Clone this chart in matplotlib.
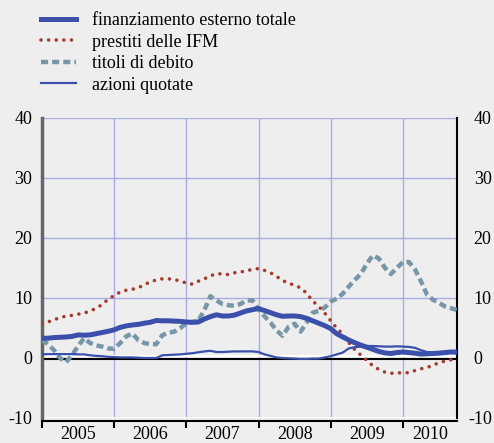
import matplotlib
matplotlib.use("Agg")
import matplotlib.pyplot as plt
import numpy as np

# monthly data, Jan 2005 - Oct 2010
years = [2005, 2006, 2007, 2008, 2009, 2010]
year_labels = ["2005", "2006", "2007", "2008", "2009", "2010"]

totale = [3.3, 3.3, 3.4, 3.45, 3.5, 3.6, 3.85, 3.8, 3.85, 4.05, 4.25, 4.45,
          4.7, 5.1, 5.35, 5.5, 5.6, 5.8, 5.95, 6.25, 6.2, 6.2, 6.15, 6.1,
          6.0, 5.95, 6.0, 6.5, 6.9, 7.2, 7.0, 7.0, 7.15, 7.5, 7.85, 8.05,
          8.25, 7.9, 7.55, 7.2, 6.95, 7.0, 7.0, 6.9, 6.6, 6.2, 5.8, 5.4,
          4.9, 4.05, 3.5, 3.0, 2.55, 2.15, 1.8, 1.45, 1.1, 0.85, 0.75, 0.9,
          1.0, 0.9, 0.8, 0.65, 0.7, 0.75, 0.8, 0.9, 1.0, 0.95]

prestiti = [5.8, 6.0, 6.4, 6.7, 7.0, 7.1, 7.3, 7.5, 7.8, 8.3, 8.9, 9.8,
            10.4, 11.0, 11.3, 11.45, 11.7, 12.2, 12.7, 13.0, 13.2, 13.2, 13.1, 12.8,
            12.5, 12.3, 12.8, 13.2, 13.7, 14.05, 14.0, 13.9, 14.2, 14.35, 14.5, 14.8,
            14.9, 14.6, 14.2, 13.6, 12.9, 12.5, 12.1, 11.7, 10.8, 9.5, 8.6, 7.5,
            6.2, 5.0, 4.0, 2.6, 1.4, 0.5, -0.4, -1.3, -1.9, -2.35, -2.55, -2.5,
            -2.45, -2.45, -2.1, -1.8, -1.6, -1.2, -0.8, -0.5, -0.3, -0.1]

titoli = [3.05, 2.3, 1.3, 0.0, -0.7, 0.5, 2.0, 3.3, 2.5, 2.1, 1.9, 1.6,
          1.5, 2.5, 3.6, 4.1, 3.0, 2.5, 2.3, 2.3, 3.8, 4.2, 4.4, 5.0,
          5.8, 6.0, 6.2, 8.0, 10.3, 9.6, 9.0, 8.8, 8.7, 9.0, 9.6, 9.6,
          8.1, 6.95, 5.9, 4.6, 3.7, 5.2, 5.7, 4.4, 5.9, 7.55, 7.85, 8.4,
          9.4, 9.9, 10.7, 11.9, 13.0, 14.0, 15.7, 17.1, 16.6, 15.05, 14.0, 15.0,
          16.0, 16.0, 14.8, 12.8, 10.6, 9.7, 9.2, 8.6, 8.3, 8.0]

azioni = [0.6, 0.65, 0.65, 0.65, 0.65, 0.65, 0.6, 0.6, 0.45, 0.35, 0.3, 0.2,
          0.15, 0.1, 0.1, 0.1, 0.05, 0.0, 0.0, 0.0, 0.45, 0.5, 0.55, 0.6,
          0.7, 0.8, 0.95, 1.1, 1.2, 1.0, 1.0, 1.05, 1.1, 1.1, 1.1, 1.1,
          1.0, 0.6, 0.35, 0.1, 0.0, -0.05, -0.1, -0.15, -0.15, -0.1, -0.1, 0.1,
          0.3, 0.6, 0.9, 1.6, 1.8, 1.9, 2.0, 2.0, 1.95, 1.9, 1.9, 1.95,
          1.9, 1.85, 1.7, 1.3, 1.0, 0.95, 1.0, 1.05, 1.15, 1.2]

t = 2005 + np.arange(len(totale)) / 12.0

bg = "#eeeeee"
blue = "#3a50aa"
red = "#a33b2f"
grey = "#7797a8"
grid_col = "#a9ade3"

plt.rcParams["font.family"] = ["Liberation Serif", "DejaVu Serif"]

fig = plt.figure(figsize=(4.94, 4.43), dpi=100, facecolor=bg)
ax = fig.add_axes([42 / 494, 1 - 418 / 443, 415 / 494, 300 / 443], facecolor=bg)

ax.set_xlim(2005, 2010.75)
ax.set_ylim(-10, 40)

# grid
for y in [10, 20, 30, 40]:
    ax.axhline(y, color=grid_col, lw=1.0, zorder=1)
for x in years[1:]:
    ax.axvline(x, color=grid_col, lw=1.0, zorder=1)

ax.axhline(0.3, color="white", lw=1.5, zorder=2)
ax.axhline(-0.2, color="black", lw=1.5, zorder=2)
ax.axhline(-10, color="white", lw=2.0, zorder=2)

ax.plot(t, totale, color=blue, lw=3.6, zorder=5, label="finanziamento esterno totale")
ax.plot(t, prestiti, color=red, lw=2.6, linestyle=(0, (0.01, 2.1)),
        dash_capstyle="round", zorder=4, label="prestiti delle IFM")
ax.plot(t, titoli, color=grey, lw=3.2, linestyle=(0, (1.6, 0.9)), zorder=3,
        label="titoli di debito")
ax.plot(t, azioni, color=blue, lw=1.6, zorder=4, label="azioni quotate")

ax.spines["top"].set_visible(False)
ax.spines["left"].set_color("#666666")
ax.spines["left"].set_linewidth(2.5)
ax.spines["right"].set_color("black")
ax.spines["right"].set_linewidth(1.5)
ax.spines["bottom"].set_color("black")
ax.spines["bottom"].set_linewidth(1.5)
ax.spines["bottom"].set_position(("outward", 2))

yt = [-10, 0, 10, 20, 30, 40]
ytl = ["-10", "0", "10", "20", "30", "40"]
ax.set_yticks(yt)
ax.set_yticklabels(ytl)
ax.tick_params(axis="y", length=0, labelsize=13, pad=7, right=False)

# right-hand labels (minus sign hangs to the left)
for v, lab in zip(yt, ytl):
    dx = 8 if lab.startswith("-") else 12
    ax.annotate(lab, xy=(1, v), xycoords=ax.get_yaxis_transform(),
                xytext=(dx, 0), textcoords="offset points",
                ha="left", va="center_baseline", fontsize=13,
                annotation_clip=False)

ax.set_xticks(years)
ax.set_xticklabels([])
ax.tick_params(axis="x", which="major", direction="out", length=5, width=1.5,
               color="black")
ax.set_xticks([y + 0.5 for y in years[:-1]] + [2010.375], minor=True)
ax.set_xticklabels(year_labels, minor=True)
ax.tick_params(axis="x", which="minor", length=0, labelsize=13, pad=4)

fig.legend(handles=ax.get_lines()[-4:], loc="upper left",
           bbox_to_anchor=(34 / 494, 1 - 5 / 443),
           frameon=False, fontsize=13, handlelength=1.95, handletextpad=0.85,
           labelspacing=0.25, borderaxespad=0)

fig.savefig("out.png", dpi=100, facecolor=bg)
